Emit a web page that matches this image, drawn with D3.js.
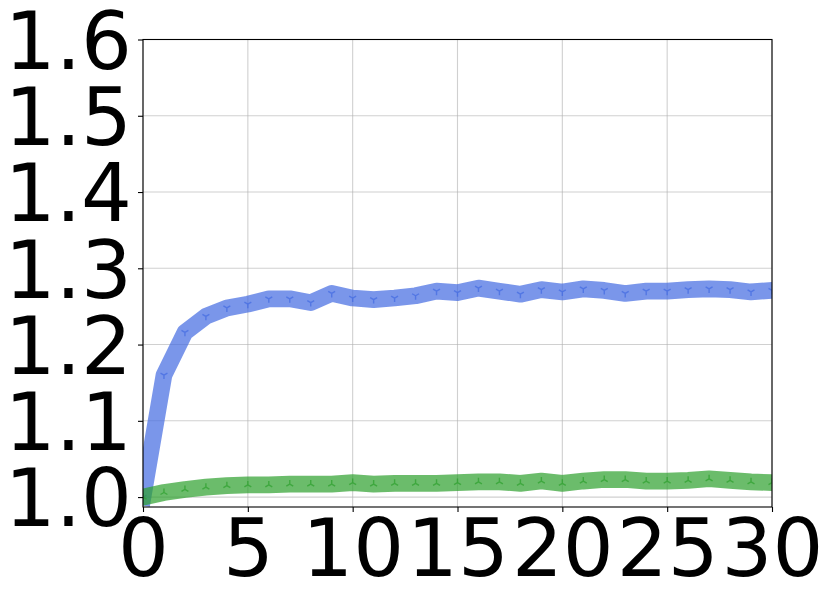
<!DOCTYPE html>
<html>
<head>
<meta charset="utf-8">
<script src="https://cdn.jsdelivr.net/npm/d3@7"></script>
<style>
  body { margin: 0; background: #fff; }
  svg text { font-family: "DejaVu Sans", sans-serif; }
</style>
</head>
<body>
<div id="canvas"></div>
<script>
// --- data
var steps = d3.range(0, 31);
var blueVals = [1.000, 1.160, 1.216, 1.237, 1.248, 1.253, 1.260, 1.260, 1.255, 1.267,
                1.261, 1.259, 1.261, 1.264, 1.270, 1.268, 1.274, 1.270, 1.266, 1.272,
                1.269, 1.273, 1.271, 1.267, 1.270, 1.270, 1.272, 1.273, 1.272, 1.269, 1.271];
var greenVals = [1.000, 1.006, 1.010, 1.013, 1.015, 1.016, 1.016, 1.017, 1.017, 1.017,
                 1.019, 1.017, 1.018, 1.018, 1.018, 1.019, 1.020, 1.020, 1.018, 1.021,
                 1.018, 1.021, 1.023, 1.023, 1.021, 1.021, 1.022, 1.024, 1.022, 1.020, 1.019];
var xTicks = [0, 5, 10, 15, 20, 25, 30];
var yTicks = [1.0, 1.1, 1.2, 1.3, 1.4, 1.5, 1.6];

// --- margin convention
var W = 831, H = 603;
var M = {top: 39.5, right: 59, bottom: 96, left: 143};
var w = W - M.left - M.right,
    h = H - M.top - M.bottom;

var svg = d3.select('#canvas').append('svg')
  .attr('width', W)
  .attr('height', H);

var plot = svg.append('g')
  .attr('transform', 'translate(' + M.left + ',' + M.top + ')');

// --- scales
var x = d3.scaleLinear().domain([0, 30]).range([0, w]);
var y = d3.scaleLinear().domain([0.987, 1.6]).range([h, 0]);

svg.append('defs').append('clipPath').attr('id', 'clip')
  .append('rect').attr('width', w).attr('height', h);

// --- grid
plot.append('g').selectAll('line').data(xTicks).enter().append('line')
  .attr('x1', function(d){ return x(d); }).attr('x2', function(d){ return x(d); })
  .attr('y1', 0).attr('y2', h)
  .attr('stroke', '#b0b0b0').attr('stroke-opacity', 0.6).attr('stroke-width', 1.1);
plot.append('g').selectAll('line').data(yTicks).enter().append('line')
  .attr('y1', function(d){ return y(d); }).attr('y2', function(d){ return y(d); })
  .attr('x1', 0).attr('x2', w)
  .attr('stroke', '#b0b0b0').attr('stroke-opacity', 0.6).attr('stroke-width', 1.1);

// --- tri markers as custom symbol types
var triDown = {draw: function(ctx, size){
  var r = Math.sqrt(size);
  ctx.moveTo(0, 0); ctx.lineTo(0, r);
  ctx.moveTo(0, 0); ctx.lineTo(-r * 0.866, -r * 0.5);
  ctx.moveTo(0, 0); ctx.lineTo(r * 0.866, -r * 0.5);
}};
var triUp = {draw: function(ctx, size){
  var r = Math.sqrt(size);
  ctx.moveTo(0, 0); ctx.lineTo(0, -r);
  ctx.moveTo(0, 0); ctx.lineTo(-r * 0.866, r * 0.5);
  ctx.moveTo(0, 0); ctx.lineTo(r * 0.866, r * 0.5);
}};

var series = [
  {vals: blueVals, color: 'rgb(65,105,225)', marker: triDown},
  {vals: greenVals, color: 'rgb(44,160,44)', marker: triUp}
];

var line = d3.line()
  .x(function(d, i){ return x(steps[i]); })
  .y(function(d){ return y(d); });

var lines = plot.append('g').attr('clip-path', 'url(#clip)');

series.forEach(function(s){
  lines.append('path')
    .attr('d', line(s.vals))
    .attr('fill', 'none')
    .attr('stroke', s.color)
    .attr('stroke-opacity', 0.7)
    .attr('stroke-width', 16.7)
    .attr('stroke-linejoin', 'round')
    .attr('stroke-linecap', 'square');

  lines.append('g').selectAll('path').data(s.vals).enter().append('path')
    .attr('transform', function(d, i){ return 'translate(' + x(steps[i]) + ',' + y(d) + ')'; })
    .attr('d', d3.symbol().type(s.marker).size(16))
    .attr('fill', 'none')
    .attr('stroke', s.color)
    .attr('stroke-opacity', 0.7)
    .attr('stroke-width', 1.4);
});

// --- axes
var xAxis = plot.append('g')
  .attr('transform', 'translate(0,' + h + ')')
  .call(d3.axisBottom(x).tickValues(xTicks).tickSize(5).tickPadding(6).tickFormat(d3.format('d')));
var yAxis = plot.append('g')
  .call(d3.axisLeft(y).tickValues(yTicks).tickSize(5).tickPadding(6).tickFormat(d3.format('.1f')));

[xAxis, yAxis].forEach(function(a){
  a.select('.domain').remove();
  a.selectAll('line').attr('stroke', '#000').attr('stroke-width', 1.1);
  a.selectAll('text').attr('fill', '#000').style('font-size', '80px')
    .style('font-family', '"DejaVu Sans", sans-serif');
});
yAxis.selectAll('text').attr('dy', '0.36em');
xAxis.selectAll('text').attr('dy', '0.73em');

// --- frame
plot.append('rect')
  .attr('width', w).attr('height', h)
  .attr('fill', 'none').attr('stroke', '#000').attr('stroke-width', 1.1);
</script>
</body>
</html>
